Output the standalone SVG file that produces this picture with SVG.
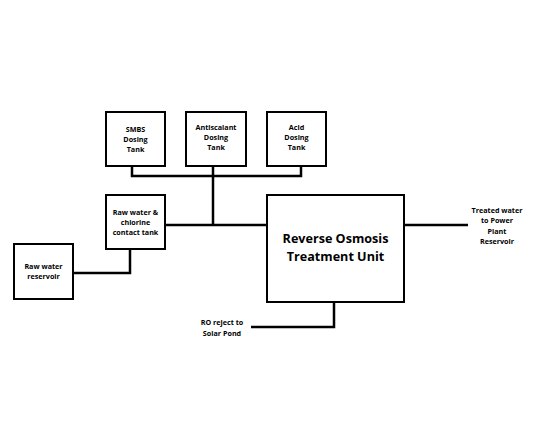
<svg xmlns="http://www.w3.org/2000/svg" width="534" height="432" viewBox="0 0 534 432">
<style>
.box{fill:#fff;stroke:#000;stroke-width:2}
.ln{fill:none;stroke:#000;stroke-width:2.5}
.t{font-family:"Open Sans","Noto Sans",sans-serif;font-size:7.2px;font-weight:700;text-anchor:middle;fill:#000}
.big{font-family:"Open Sans","Noto Sans",sans-serif;font-size:12.6px;font-weight:700;text-anchor:middle;fill:#000}
</style>
<rect width="534" height="432" fill="#fff"/>
<g id="connectors">
<polyline class="ln" points="132,166 132,176 301,176 301,166"/>
<line class="ln" x1="213" y1="166" x2="213" y2="225"/>
<line class="ln" x1="165" y1="225" x2="267" y2="225"/>
<polyline class="ln" points="73,273 130,273 130,249"/>
<line class="ln" x1="404" y1="225" x2="468" y2="225"/>
<polyline class="ln" points="334,302 334,327 251,327"/>
</g>
<g id="smbs"><rect class="box" x="106" y="112" width="59" height="54"/>
<text class="t" x="135.5" y="132">SMBS</text><text class="t" x="135.5" y="142">Dosing</text><text class="t" x="135.5" y="152">Tank</text></g>
<g id="antiscalant"><rect class="box" x="186" y="112" width="60" height="54"/>
<text class="t" x="216" y="130">Antiscalant</text><text class="t" x="216" y="140">Dosing</text><text class="t" x="216" y="150">Tank</text></g>
<g id="acid"><rect class="box" x="267" y="112" width="59" height="54"/>
<text class="t" x="296.5" y="130">Acid</text><text class="t" x="296.5" y="140">Dosing</text><text class="t" x="296.5" y="150">Tank</text></g>
<g id="chlorine"><rect class="box" x="106" y="195" width="59" height="54"/>
<text class="t" x="135.5" y="215">Raw water &amp;</text><text class="t" x="135.5" y="225">chlorine</text><text class="t" x="135.5" y="235">contact tank</text></g>
<g id="reservoir"><rect class="box" x="14" y="244" width="59" height="55"/>
<text class="t" x="43.5" y="269">Raw water</text><text class="t" x="43.5" y="279">reservoir</text></g>
<g id="ro"><rect class="box" x="267" y="195" width="137" height="107"/>
<text class="big" x="335.5" y="243">Reverse Osmosis</text><text class="big" x="335.5" y="261">Treatment Unit</text></g>
<g id="treated">
<text class="t" x="497" y="213">Treated water</text><text class="t" x="497" y="223">to Power</text><text class="t" x="497" y="234">Plant</text><text class="t" x="497" y="244">Reservoir</text></g>
<g id="reject">
<text class="t" x="222" y="325">RO reject to</text><text class="t" x="222" y="336">Solar Pond</text></g>
</svg>
